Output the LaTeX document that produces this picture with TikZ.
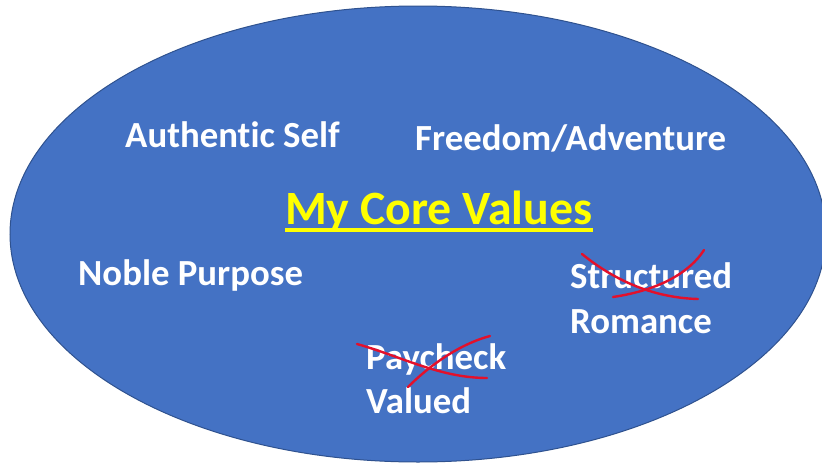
\documentclass[tikz,border=0pt]{standalone}
\usepackage{fontspec}
\usetikzlibrary{shapes.geometric}
\setmainfont{Carlito}[Ligatures=NoCommon]
\definecolor{ellblue}{HTML}{4472C4}
\definecolor{ellborder}{HTML}{2F528F}
\definecolor{titleyellow}{HTML}{FFFF00}
\definecolor{strikered}{HTML}{E3102B}
\begin{document}
\begin{tikzpicture}[x=1pt,y=-1pt,
  valtext/.style={text=white,font=\fontsize{36.8}{40}\selectfont\bfseries,inner sep=0pt,anchor=base west},
  titletext/.style={text=titleyellow,font=\fontsize{47.8}{52}\selectfont\bfseries,inner sep=0pt,anchor=base west},
  strike/.style={draw=strikered,line width=2.4pt,line cap=round}]
\useasboundingbox (0,0) rectangle (822,463);
\clip (0,0) rectangle (822,463);
\node[ellipse, draw=ellborder, fill=ellblue, line width=1pt, minimum width=816pt, minimum height=456pt, inner sep=0pt] (ell) at (418,234) {};
\node[valtext] (auth) at (125,147) {Authentic Self};
\node[valtext] (free) at (415,150) {Freedom/Adventure};
\node[titletext] (title) at (285,224) {My Core Values};
\draw[titleyellow,line width=3.5pt] ([yshift=-6pt]title.base west) coordinate (ulA) -- ([yshift=-6pt]title.base east) coordinate (ulB);
\node[valtext] (noble) at (78,285) {Noble Purpose};
\node[valtext] (struct) at (570,288) {Structured};
\node[valtext] (rom) at (570,333) {Romance};
\node[valtext] (pay) at (366,369) {Paycheck};
\node[valtext] (valued) at (366,413) {Valued};
\coordinate (s1a) at (582,254); \coordinate (s1b) at (698,299);
\coordinate (s2a) at (613,297); \coordinate (s2b) at (704,250);
\coordinate (p1a) at (357,344); \coordinate (p1b) at (487,378);
\coordinate (p2a) at (408,387); \coordinate (p2b) at (490,336);
\draw[strike] (s1a) .. controls (620,285) and (660,298) .. (s1b);
\draw[strike] (s2a) .. controls (660,290) and (690,272) .. (s2b);
\draw[strike] (p1a) .. controls (400,356) and (440,378) .. (p1b);
\draw[strike] (p2a) .. controls (430,365) and (460,344) .. (p2b);
\end{tikzpicture}
\end{document}
